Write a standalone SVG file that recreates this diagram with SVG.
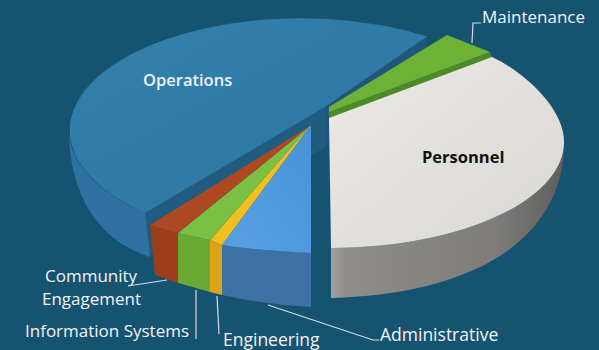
<svg xmlns="http://www.w3.org/2000/svg" width="599" height="350" viewBox="0 0 599 350">
<defs>
<linearGradient id="gPersSide" x1="0" y1="0" x2="1" y2="0">
<stop offset="0" stop-color="#a4a39f"/>
<stop offset="0.06" stop-color="#8e8d8a"/>
<stop offset="0.7" stop-color="#7e7d7b"/>
<stop offset="1" stop-color="#5e5e5d"/>
</linearGradient>
<linearGradient id="gPersTop" x1="0" y1="0" x2="1" y2="1">
<stop offset="0" stop-color="#ebeae6"/>
<stop offset="1" stop-color="#d8d7d2"/>
</linearGradient>
<linearGradient id="gOpsTop" x1="0" y1="0" x2="1" y2="1">
<stop offset="0" stop-color="#3381ac"/>
<stop offset="1" stop-color="#2b75a1"/>
</linearGradient>
<linearGradient id="gAdminTop" x1="0" y1="1" x2="1" y2="0">
<stop offset="0" stop-color="#56a0e2"/>
<stop offset="1" stop-color="#4892d8"/>
</linearGradient>
</defs>
<style>
.lbl{font-family:"Open Sans","Liberation Sans",sans-serif;font-size:17px;fill:#f2f4f5}
.big{font-family:"Open Sans","Liberation Sans",sans-serif;font-size:16.5px}
.leader{fill:none;stroke:#d5dbe0;stroke-width:1.2}
</style>
<rect x="0" y="0" width="599" height="350" fill="#165370"/>

<g id="operations">
<path d="M69,130 C69,190 95,240 150,257 L152,235 L145,213 A231 112 0 0 1 69,130 Z" fill="#2d72a0"/>
<path d="M325,107 L427,36.5 L427,74 L325,147 Z" fill="#1f5679"/>
<path d="M145,213 L325,107 L325,147 L150,256 Z" fill="#225b80"/>
<path d="M325,107 L427,36.5 A231 112 0 0 0 145,213 Z" fill="url(#gOpsTop)"/>
<text class="big" x="143" y="86" font-weight="600" fill="#eef3f6">Operations</text>
</g>

<g id="maintenance">
<path d="M329,112 L490,52 L492,58 L329,120 Z" fill="#4c8a26"/>
<path d="M329,107 L447,35 L490,52 L329,112 Z" fill="#6cb236"/>
<text class="lbl" x="482" y="23">Maintenance</text>
</g>

<g id="personnel">
<path d="M564,142 C564,200 461,248 331,248 L331,298 C480,294 565,235 564,142 Z" fill="url(#gPersSide)"/>
<path d="M329,118 L492,57 C524,72 564,108 564,142 C564,200 461,248 331,248 Z" fill="url(#gPersTop)"/>
<text class="big" x="422" y="163" font-weight="700" fill="#111111">Personnel</text>
</g>

<g id="administrative">
<path d="M222,245 Q260,251 311,253 L311,307 Q267,305 222,295 Z" fill="#3d71a4"/>
<path d="M310,126 L222,245 Q260,251 311,253 L311,126 Z" fill="url(#gAdminTop)"/>
<text class="lbl" x="380" y="341" style="font-size:17.5px">Administrative</text>
</g>

<g id="engineering">
<path d="M210,240 L222,245 L222,295 L210,292 Z" fill="#dba417"/>
<path d="M310,126 L210,240 L222,245 Z" fill="#f2c01c"/>
<text class="lbl" x="223" y="345.5" style="font-size:17.5px">Engineering</text>
</g>

<g id="information-systems">
<path d="M178,233 L210,240 L210,292 L178,283 Z" fill="#6aaa33"/>
<path d="M310,126 L178,233 L210,240 Z" fill="#7cc043"/>
<text class="lbl" x="25" y="337">Information Systems</text>
</g>

<g id="community-engagement">
<path d="M150,225 L178,233 L178,283 L155,275 Z" fill="#9c3e1b"/>
<path d="M310,126 L150,225 L178,233 Z" fill="#ad4822"/>
<text class="lbl" x="45" y="282">Community</text>
<text class="lbl" x="42" y="305">Engagement</text>
</g>

<g id="connectors">
<polyline class="leader" points="481,23 473,23 472,43"/>
<line class="leader" x1="128" y1="286" x2="167" y2="280"/>
<line class="leader" x1="196" y1="290" x2="196" y2="339"/>
<line class="leader" x1="217" y1="296" x2="219" y2="334"/>
<polyline class="leader" points="268,305 373,340 379,340"/>
</g>
</svg>
